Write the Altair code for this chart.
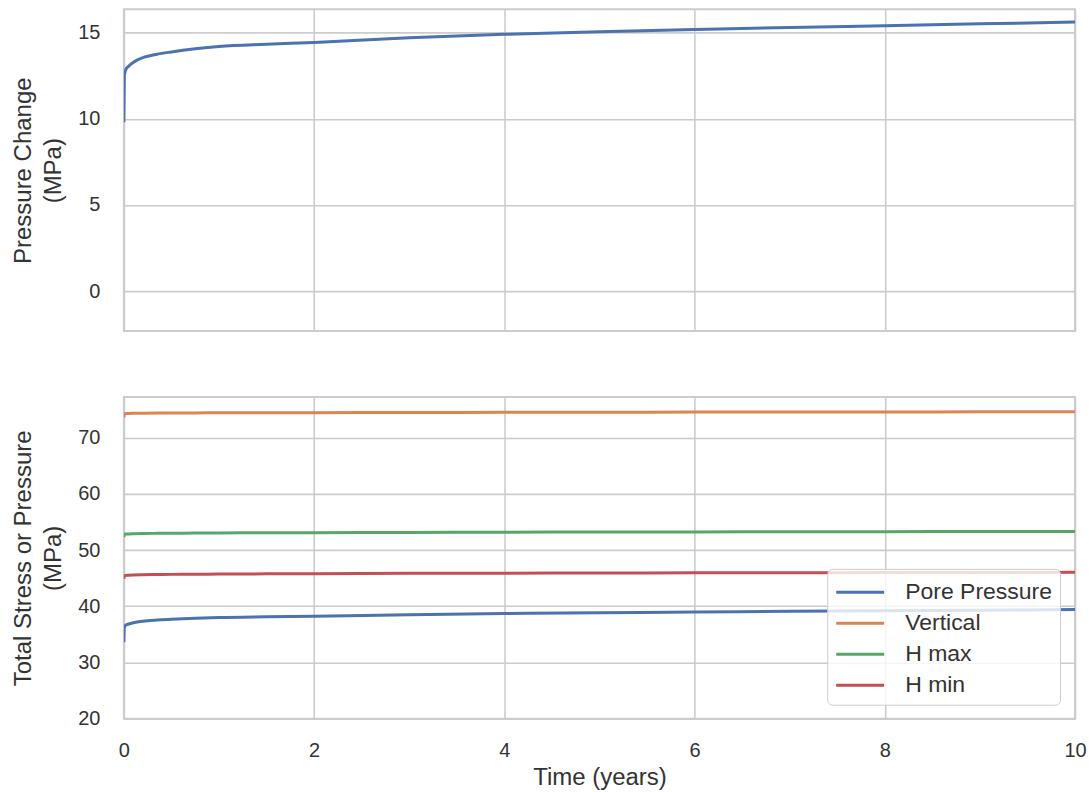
import altair as alt
import pandas as pd

# ---- data ----
time_years = [0, 0.005, 0.02, 0.05, 0.1, 0.2, 0.35, 0.5, 0.75, 1, 1.5, 2, 3, 4, 5, 6, 7, 8, 9, 10]
pressure_change = [9.8, 12.5, 12.85, 13.05, 13.28, 13.55, 13.75, 13.88, 14.06, 14.2, 14.33, 14.43,
                   14.7, 14.9, 15.05, 15.18, 15.3, 15.4, 15.51, 15.61]
pore_pressure = [33.6, 36.3, 36.65, 36.85, 37.08, 37.35, 37.55, 37.68, 37.86, 38.0, 38.13, 38.23,
                 38.5, 38.7, 38.85, 38.98, 39.1, 39.2, 39.31, 39.41]
vertical_stress = [73.6, 74.25, 74.3, 74.32, 74.34, 74.36, 74.38, 74.39, 74.41, 74.42, 74.44, 74.45,
                   74.48, 74.51, 74.53, 74.55, 74.57, 74.58, 74.6, 74.61]
hmax_stress = [52.3, 52.8, 52.85, 52.88, 52.91, 52.95, 52.98, 53.0, 53.03, 53.05, 53.08, 53.1,
               53.15, 53.19, 53.22, 53.24, 53.26, 53.28, 53.3, 53.32]
hmin_stress = [44.9, 45.45, 45.5, 45.54, 45.58, 45.62, 45.65, 45.68, 45.71, 45.73, 45.77, 45.8,
               45.86, 45.9, 45.93, 45.96, 45.98, 46.0, 46.02, 46.04]

series_names = ["Pore Pressure", "Vertical", "H max", "H min"]
series_colors = ["#4C72B0", "#DD8452", "#55A868", "#C44E52"]
x_ticks = [0, 2, 4, 6, 8, 10]
top_ticks = [0, 5, 10, 15]
bottom_ticks = [20, 30, 40, 50, 60, 70]

# ---- tables ----
top_df = pd.DataFrame({"t": time_years, "dp": pressure_change})
bottom_df = pd.concat(
    [
        pd.DataFrame({"t": time_years, "value": vals, "series": name})
        for name, vals in zip(series_names, [pore_pressure, vertical_stress, hmax_stress, hmin_stress])
    ],
    ignore_index=True,
)

FONT = "Liberation Sans"
GRID = "#cccccc"
TEXT = "#333333"

x_scale = alt.Scale(domain=[0, 10], nice=False, zero=False)

top = alt.Chart(top_df).mark_line(
    color=series_colors[0], strokeWidth=3, interpolate="monotone", clip=True
).encode(
    x=alt.X("t:Q", scale=x_scale,
            axis=alt.Axis(values=x_ticks, labels=False, ticks=False, domain=False, title=None, grid=True)),
    y=alt.Y("dp:Q", scale=alt.Scale(domain=[-2.32, 16.35], nice=False, zero=False),
            axis=alt.Axis(values=top_ticks, title=["Pressure Change", "(MPa)"])),
).properties(width=952, height=322)

bottom = alt.Chart(bottom_df).mark_line(
    strokeWidth=3, interpolate="monotone", clip=True
).encode(
    x=alt.X("t:Q", scale=x_scale, axis=alt.Axis(values=x_ticks, title="Time (years)")),
    y=alt.Y("value:Q", scale=alt.Scale(domain=[20, 77.24], nice=False, zero=False),
            axis=alt.Axis(values=bottom_ticks, title=["Total Stress or Pressure", "(MPa)"])),
    color=alt.Color(
        "series:N",
        sort=series_names,
        scale=alt.Scale(domain=series_names, range=series_colors),
        legend=alt.Legend(
            orient="none", legendX=704, legendY=172, title=None,
            labelFont=FONT, labelFontSize=23, labelColor=TEXT,
            symbolType="M-1.6,0L1.6,0", symbolSize=900, symbolStrokeWidth=3,
            symbolOffset=9.5, labelOffset=28.5,
            padding=7, rowPadding=2,
            fillColor="rgba(255,255,255,0.8)", strokeColor="#cccccc", cornerRadius=5,
        ),
    ),
).properties(width=952, height=322)

chart = alt.vconcat(top, bottom, spacing=64).resolve_legend(color="independent").properties(
    padding={"left": 10, "top": 8, "right": 1, "bottom": 2}
).configure_view(
    stroke=GRID, strokeWidth=2
).configure_axis(
    gridColor=GRID, gridWidth=1.6, domain=False, ticks=False, tickSize=0,
    labelFont=FONT, labelFontSize=20, labelColor=TEXT, labelFlush=False,
    titleFont=FONT, titleFontSize=24, titleFontWeight="normal", titleColor=TEXT,
).configure_axisY(
    labelPadding=24, titlePadding=12, titleLineHeight=30,
).configure_axisX(
    labelPadding=22, titlePadding=5,
)

chart.save("out.html", embed_options={"renderer": "svg", "actions": False})
